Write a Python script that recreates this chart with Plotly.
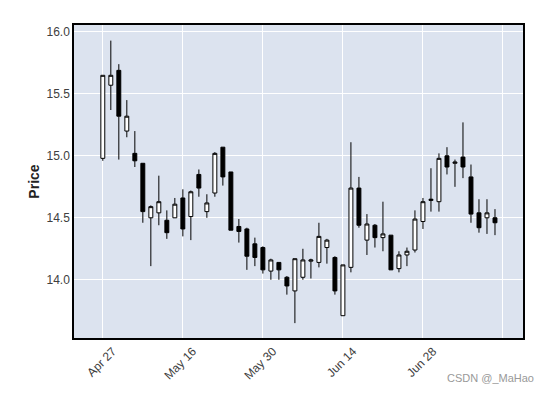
import plotly.graph_objects as go

dates = ["Apr 27","Apr 28","Apr 29","May 05","May 06","May 09","May 10","May 11","May 12","May 13",
         "May 16","May 17","May 18","May 19","May 20","May 23","May 24","May 25","May 26","May 27",
         "May 30","May 31","Jun 01","Jun 02","Jun 06","Jun 07","Jun 08","Jun 09","Jun 10","Jun 13",
         "Jun 14","Jun 15","Jun 16","Jun 17","Jun 20","Jun 21","Jun 22","Jun 23","Jun 24","Jun 27",
         "Jun 28","Jun 29","Jun 30","Jul 01","Jul 04","Jul 05","Jul 06","Jul 07","Jul 08","Jul 11"]

opens  = [14.98,15.57,15.69,15.20,15.02,14.94,14.50,14.54,14.48,14.50,
          14.66,14.51,14.85,14.55,14.70,15.07,14.87,14.43,14.41,14.29,
          14.26,14.07,14.14,14.02,13.91,14.02,14.15,14.14,14.26,14.18,
          13.71,14.10,14.74,14.32,14.44,14.34,14.36,14.09,14.20,14.24,
          14.47,14.64,14.63,15.00,14.94,14.99,14.83,14.54,14.50,14.50]
highs  = [15.65,15.93,15.74,15.45,15.20,14.94,14.60,14.84,14.56,14.66,
          14.73,14.72,14.89,14.69,15.03,15.07,14.87,14.49,14.42,14.34,
          14.27,14.17,14.14,14.03,14.17,14.25,14.17,14.46,14.33,14.19,
          14.12,15.11,14.83,14.53,14.45,14.63,14.36,14.23,14.26,14.56,
          14.66,14.90,15.02,15.07,14.97,15.27,14.93,14.65,14.65,14.57]
lows   = [14.96,15.37,14.97,15.15,14.91,14.46,14.11,14.44,14.33,14.50,
          14.35,14.32,14.67,14.50,14.67,14.76,14.40,14.30,14.08,14.11,
          14.05,14.00,14.00,13.88,13.65,14.00,14.01,14.10,14.13,13.88,
          13.71,14.06,14.42,14.20,14.26,14.23,14.08,14.06,14.11,14.22,
          14.41,14.55,14.55,14.85,14.75,14.82,14.46,14.38,14.37,14.36]
closes = [15.65,15.65,15.32,15.32,14.96,14.55,14.59,14.63,14.38,14.61,
          14.41,14.71,14.74,14.62,15.02,14.83,14.40,14.39,14.19,14.18,
          14.08,14.16,14.08,13.95,14.17,14.16,14.16,14.35,14.32,13.91,
          14.12,14.74,14.44,14.45,14.34,14.37,14.08,14.20,14.23,14.49,
          14.63,14.65,14.98,14.91,14.95,14.91,14.53,14.42,14.54,14.46]

tick_idx = [0, 10, 20, 30, 40, 50]
tick_text = ["Apr 27", "May 16", "May 30", "Jun 14", "Jun 28", ""]
y_ticks = [14.0, 14.5, 15.0, 15.5, 16.0]

x = list(range(len(dates)))

fig = go.Figure(go.Candlestick(
    x=x, open=opens, high=highs, low=lows, close=closes,
    increasing=dict(fillcolor="white", line=dict(color="black", width=1)),
    decreasing=dict(fillcolor="black", line=dict(color="black", width=1)),
    whiskerwidth=0, showlegend=False,
    text=dates, hoverinfo="text+y",
))

fig.update_layout(
    width=550, height=393,
    margin=dict(l=74, r=27, t=25, b=55),
    paper_bgcolor="white", plot_bgcolor="#DCE3EF",
    font=dict(family="Liberation Sans, Arial, sans-serif", size=12, color="#404040"),
    xaxis=dict(range=[-3.6, 52.5], tickvals=tick_idx, ticktext=tick_text, tickangle=-45,
               showgrid=True, gridcolor="white", gridwidth=1, rangeslider=dict(visible=False),
               showline=True, linecolor="black", linewidth=1.5, mirror=True,
               ticks="", zeroline=False, automargin=False, tickfont=dict(size=12),
               ticklabelshift=10, ticklabelstandoff=0),
    yaxis=dict(range=[13.53, 16.056], tickvals=y_ticks, tickformat=".1f",
               showgrid=True, gridcolor="white", gridwidth=1,
               showline=True, linecolor="black", linewidth=1.5, mirror=True,
               ticks="", zeroline=False, automargin=False, tickfont=dict(size=12),
               title=dict(text="<b>Price</b>", font=dict(size=14, color="#222222"), standoff=4)),
    annotations=[dict(text="CSDN @_MaHao", xref="paper", yref="paper", x=1.03, y=-0.128,
                      xanchor="right", yanchor="middle", showarrow=False,
                      font=dict(size=11, color="#999999"))],
)

fig.write_html("out.html", config={"displayModeBar": False},
               post_script="document.body.style.margin='0';")
